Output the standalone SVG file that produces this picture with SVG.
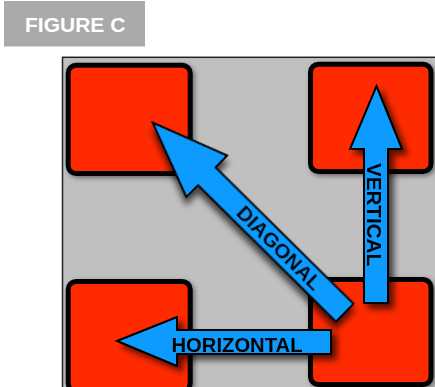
<svg xmlns="http://www.w3.org/2000/svg" width="435" height="387" viewBox="0 0 435 387">
  <defs>
    <filter id="boxShadow" x="-10%" y="-10%" width="130%" height="130%">
      <feDropShadow dx="2" dy="2" stdDeviation="2.5" flood-color="#000" flood-opacity="0.45"/>
    </filter>
    <filter id="arrowShadow" x="-20%" y="-20%" width="150%" height="150%">
      <feDropShadow dx="5" dy="5" stdDeviation="3" flood-color="#000" flood-opacity="0.65"/>
    </filter>
  </defs>
  <style>
    .cell { fill: #ff2a00; stroke: #000; stroke-width: 5; }
    .arrow { fill: #0a9bff; stroke: #000; stroke-width: 2; stroke-linejoin: miter; }
    .lbl { font-family: "Liberation Sans", Arial, sans-serif; font-weight: bold; font-size: 20px; fill: #000; }
    .title { font-family: "Liberation Sans", Arial, sans-serif; font-weight: bold; font-size: 21px; fill: #fff; }
  </style>

  <rect width="435" height="387" fill="#fff"/>

  <!-- caption tab -->
  <g id="caption">
    <rect x="4" y="1" width="141" height="45.5" fill="#aaaaaa"/>
    <text class="title" x="25" y="32.3">FIGURE C</text>
  </g>

  <!-- grey board -->
  <rect id="board" x="62.5" y="57.3" width="390" height="350" fill="#c0c0c0" stroke="#222" stroke-width="1.5"/>

  <!-- the four cells -->
  <g id="cell-top-left" filter="url(#boxShadow)">
    <rect class="cell" x="68.2" y="65.2" width="122" height="108.3" rx="8"/>
  </g>
  <g id="cell-top-right" filter="url(#boxShadow)">
    <rect class="cell" x="310.5" y="64.2" width="120.5" height="107.3" rx="8"/>
  </g>
  <g id="cell-bottom-left" filter="url(#boxShadow)">
    <rect class="cell" x="68.2" y="281.5" width="122" height="110" rx="8"/>
  </g>
  <g id="cell-bottom-right" filter="url(#boxShadow)">
    <rect class="cell" x="310.5" y="279.5" width="120.5" height="105" rx="8"/>
  </g>

  <!-- movement arrows -->
  <g id="connectors">
    <g id="arrow-vertical" filter="url(#arrowShadow)">
      <polygon class="arrow" points="376.5,86 402,149 388,149 388,303 364,303 364,149 350,149"/>
      <text class="lbl" transform="translate(366.5,163) rotate(90)" textLength="103" lengthAdjust="spacingAndGlyphs">VERTICAL</text>
    </g>
    <g id="arrow-horizontal" filter="url(#arrowShadow)">
      <polygon class="arrow" points="117,341 177,317 177,330 331,330 331,354 177,354 177,366"/>
      <text class="lbl" x="171.5" y="351.7" textLength="131" lengthAdjust="spacingAndGlyphs">HORIZONTAL</text>
    </g>
    <g id="arrow-diagonal" filter="url(#arrowShadow)" transform="translate(152.7,122.7) rotate(44.7)">
      <polygon class="arrow" points="0,0 76,-29 76,-12.5 270,-12.5 270,12.5 76,12.5 76,29"/>
      <text class="lbl" x="178" y="7.2" text-anchor="middle" textLength="110" lengthAdjust="spacingAndGlyphs">DIAGONAL</text>
    </g>
  </g>
</svg>
